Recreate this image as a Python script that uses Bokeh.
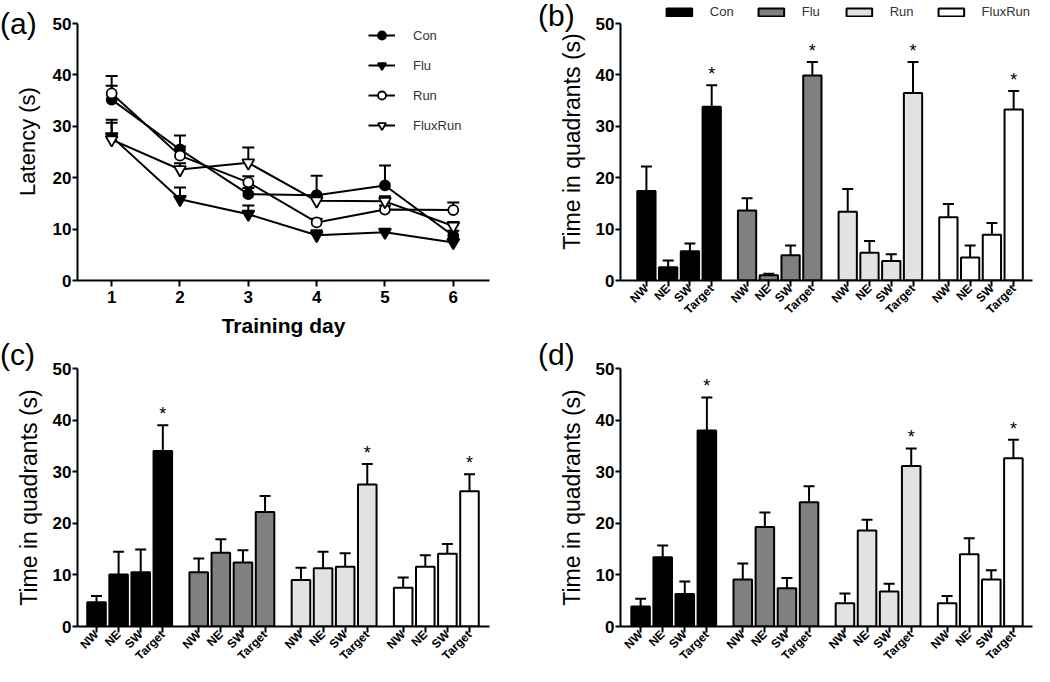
import math
from bokeh.plotting import figure
from bokeh.models import (Range1d, FixedTicker, Whisker, TeeHead, ColumnDataSource,
                          Legend, LegendItem, GridBox, Div)
from bokeh.embed import file_html
from bokeh.resources import INLINE
from bokeh.core.properties import value

FONT = "Liberation Sans"

# ---------------- data ----------------
groups = ["Con", "Flu", "Run", "FluxRun"]
quadrants = ["NW", "NE", "SW", "Target"]
group_fills = ["#000000", "#808080", "#e2e2e2", "#ffffff"]
panel_letters = ["(a)", "(b)", "(c)", "(d)"]

# panel (a): escape latency per training day
days = [1, 2, 3, 4, 5, 6]
lat_con = [35.2, 25.5, 16.8, 16.6, 18.5, 8.7]
lat_con_err = [4.6, 2.7, 1.2, 3.8, 3.9, 1.0]
lat_flu = [28.0, 15.8, 12.9, 8.8, 9.4, 7.4]
lat_flu_err = [3.3, 2.3, 1.7, 1.0, 0.6, 0.6]
lat_run = [36.4, 24.3, 19.1, 11.3, 13.8, 13.7]
lat_run_err = [1.5, 1.8, 1.2, 0.7, 0.8, 1.5]
lat_fxr = [27.4, 21.6, 22.9, 15.5, 15.4, 10.6]
lat_fxr_err = [3.3, 1.2, 3.0, 1.0, 1.0, 0.8]

# panel (b): time in quadrants
b_con = [17.4, 2.6, 5.7, 33.8]
b_con_err = [4.8, 1.3, 1.5, 4.2]
b_flu = [13.6, 1.0, 4.9, 39.9]
b_flu_err = [2.4, 0.3, 1.9, 2.6]
b_run = [13.4, 5.4, 3.8, 36.5]
b_run_err = [4.4, 2.3, 1.3, 6.0]
b_fxr = [12.3, 4.5, 8.9, 33.3]
b_fxr_err = [2.6, 2.3, 2.3, 3.6]
b_star = [1, 1, 1, 1]

# panel (c)
c_con = [4.7, 10.1, 10.5, 34.0]
c_con_err = [1.2, 4.4, 4.4, 5.0]
c_flu = [10.5, 14.3, 12.4, 22.2]
c_flu_err = [2.7, 2.6, 2.4, 3.1]
c_run = [9.0, 11.3, 11.6, 27.5]
c_run_err = [2.4, 3.2, 2.6, 4.0]
c_fxr = [7.5, 11.6, 14.1, 26.2]
c_fxr_err = [2.0, 2.2, 1.9, 3.3]
c_star = [1, 0, 1, 1]

# panel (d)
d_con = [3.9, 13.4, 6.3, 38.0]
d_con_err = [1.5, 2.3, 2.4, 6.4]
d_flu = [9.1, 19.3, 7.4, 24.1]
d_flu_err = [3.1, 2.8, 2.0, 3.1]
d_run = [4.5, 18.6, 6.8, 31.1]
d_run_err = [1.9, 2.1, 1.5, 3.4]
d_fxr = [4.5, 14.0, 9.1, 32.6]
d_fxr_err = [1.4, 3.1, 1.8, 3.6]
d_star = [1, 0, 1, 1]

y_ticks = [0, 10, 20, 30, 40, 50]
STRIDE = 4.625
# top row: frame reaches up to the legend; the axis line itself stops at 50
TOP_ROW_YMAX = 54.1


def style(p):
    p.outline_line_color = None
    p.xgrid.grid_line_color = None
    p.ygrid.grid_line_color = None
    for ax in p.axis:
        ax.axis_line_width = 2
        ax.axis_line_color = "black"
        ax.major_tick_line_width = 2
        ax.major_tick_line_color = "black"
        ax.major_tick_in = 0
        ax.major_tick_out = 6
        ax.minor_tick_line_color = None
        ax.major_label_text_font = FONT
        ax.major_label_text_font_style = "bold"
        ax.major_label_text_font_size = "17px"
        ax.major_label_text_color = "black"
        ax.axis_label_text_font = FONT
        ax.axis_label_text_font_size = "22px"
        ax.axis_label_text_font_style = "normal"
        ax.axis_label_text_color = "black"
    p.yaxis.ticker = FixedTicker(ticks=y_ticks)
    p.yaxis.bounds = (0, 50)
    p.yaxis.major_tick_out = 5
    p.yaxis.major_label_standoff = 1


# ---------------- panel (a) ----------------
fa = figure(width=520, height=340, x_range=Range1d(0.5, 6.53), y_range=Range1d(0, TOP_ROW_YMAX),
            output_backend="svg", toolbar_location=None,
            min_border_left=77, min_border_right=31, min_border_top=2, min_border_bottom=60)
style(fa)
fa.xaxis.ticker = FixedTicker(ticks=days)
fa.xaxis.axis_label = "Training day"
fa.xaxis.axis_label_text_font_style = "bold"
fa.xaxis.axis_label_text_font_size = "21px"
fa.xaxis.axis_label_standoff = 8
fa.xaxis.major_label_standoff = 4
fa.yaxis.axis_label = "Latency (s)"
fa.yaxis.axis_label_standoff = 10

series = [
    ("Con", lat_con, lat_con_err, "circle", "black", 10),
    ("Flu", lat_flu, lat_flu_err, "inverted_triangle", "black", 12),
    ("Run", lat_run, lat_run_err, "circle", "white", 10),
    ("FluxRun", lat_fxr, lat_fxr_err, "inverted_triangle", "white", 12),
]
items = []
for name, m, e, marker, fill, size in series:
    src = ColumnDataSource(dict(x=days, y=m, up=[a + b for a, b in zip(m, e)]))
    fa.add_layout(Whisker(base="x", lower="y", upper="up", source=src, line_width=2,
                          line_color="black", lower_head=None,
                          upper_head=TeeHead(size=12, line_width=2, line_color="black")))
    lr = fa.line("x", "y", source=src, line_width=2, line_color="black")
    sr = fa.scatter("x", "y", source=src, marker=marker, size=size, fill_color=fill,
                    line_color="black", line_width=1.8)
    items.append(LegendItem(label=name, renderers=[lr, sr]))
leg_a = Legend(items=items, location=(291, 145), orientation="vertical",
               glyph_width=27, glyph_height=20, spacing=10, label_standoff=18,
               padding=0, margin=0, border_line_color=None, background_fill_alpha=0,
               label_text_font=FONT, label_text_font_size="13px", label_text_color="#333333")
fa.add_layout(leg_a)


# ---------------- bar panels ----------------
def bar_panel(data, stars, xr, ymax, width, height, borders, legend=False):
    bl, br, bt, bb = borders
    p = figure(width=width, height=height, x_range=Range1d(*xr), y_range=Range1d(0, ymax),
               output_backend="svg", toolbar_location=None,
               min_border_left=bl, min_border_right=br, min_border_top=bt, min_border_bottom=bb)
    style(p)
    p.yaxis.axis_label = "Time in quadrants (s)"
    p.yaxis.axis_label_text_font_size = "23px"
    p.yaxis.axis_label_standoff = 8
    ticks, overrides, items = [], {}, []
    for g, (name, (m, e)) in enumerate(zip(groups, data)):
        xs = [g * STRIDE + i for i in range(len(quadrants))]
        ticks += xs
        for x, q in zip(xs, quadrants):
            overrides[x] = q
        src = ColumnDataSource(dict(x=xs, top=m, up=[a + b for a, b in zip(m, e)]))
        r = p.vbar(x="x", top="top", bottom=0, width=0.84, source=src,
                   fill_color=group_fills[g], line_color="black", line_width=2)
        items.append(LegendItem(label=name, renderers=[r]))
        p.add_layout(Whisker(base="x", lower="top", upper="up", source=src, line_width=2,
                             line_color="black", lower_head=None,
                             upper_head=TeeHead(size=11, line_width=2, line_color="black")))
        if stars[g]:
            p.text(x=[xs[-1]], y=[m[-1] + e[-1]], text=["*"], text_font=value(FONT),
                   text_font_size="18px", text_align="center", text_baseline="middle",
                   y_offset=-11, text_color="black")
    p.xaxis.ticker = FixedTicker(ticks=ticks)
    p.xaxis.major_label_overrides = overrides
    p.xaxis.major_label_orientation = math.pi / 4
    p.xaxis.major_label_text_font_size = "12px"
    p.xaxis.major_tick_out = 6
    p.xaxis.major_label_standoff = 0
    if legend:
        lg = Legend(items=items, location="top_right", orientation="horizontal",
                    glyph_width=32, glyph_height=10, label_height=14, spacing=21,
                    label_standoff=15, padding=0, margin=2, border_line_color=None,
                    background_fill_alpha=0, label_text_font=FONT,
                    label_text_font_size="13px", label_text_color="#333333")
        p.add_layout(lg)
    return p


fb = bar_panel([(b_con, b_con_err), (b_flu, b_flu_err), (b_run, b_run_err), (b_fxr, b_fxr_err)],
               b_star, (-1.19, 17.74), TOP_ROW_YMAX, 528, 340, (100, 16, 2, 60), legend=True)
fc = bar_panel([(c_con, c_con_err), (c_flu, c_flu_err), (c_run, c_run_err), (c_fxr, c_fxr_err)],
               c_star, (-0.86, 17.78), 50, 520, 340, (77, 31, 28, 54))
fd = bar_panel([(d_con, d_con_err), (d_flu, d_flu_err), (d_run, d_run_err), (d_fxr, d_fxr_err)],
               d_star, (-0.91, 17.74), 50, 528, 340, (100, 16, 28, 54))


# ---------------- panel letters (overlaid in the same grid cells) ----------------
def letter_div(text, top, left):
    return Div(text=text, width=50, height=36, margin=(top, 0, 0, left), align="start",
               styles={"font-family": FONT, "font-size": "30px", "line-height": "30px",
                       "color": "black", "pointer-events": "none"})


letters = [letter_div(panel_letters[0], 9, 0), letter_div(panel_letters[1], 1, 18),
           letter_div(panel_letters[2], 0, 0), letter_div(panel_letters[3], 0, 18)]

layout = GridBox(children=[(fa, 0, 0), (fb, 0, 1), (fc, 1, 0), (fd, 1, 1),
                           (letters[0], 0, 0), (letters[1], 0, 1),
                           (letters[2], 1, 0), (letters[3], 1, 1)])
open("out.html", "w").write(file_html(layout, INLINE))
